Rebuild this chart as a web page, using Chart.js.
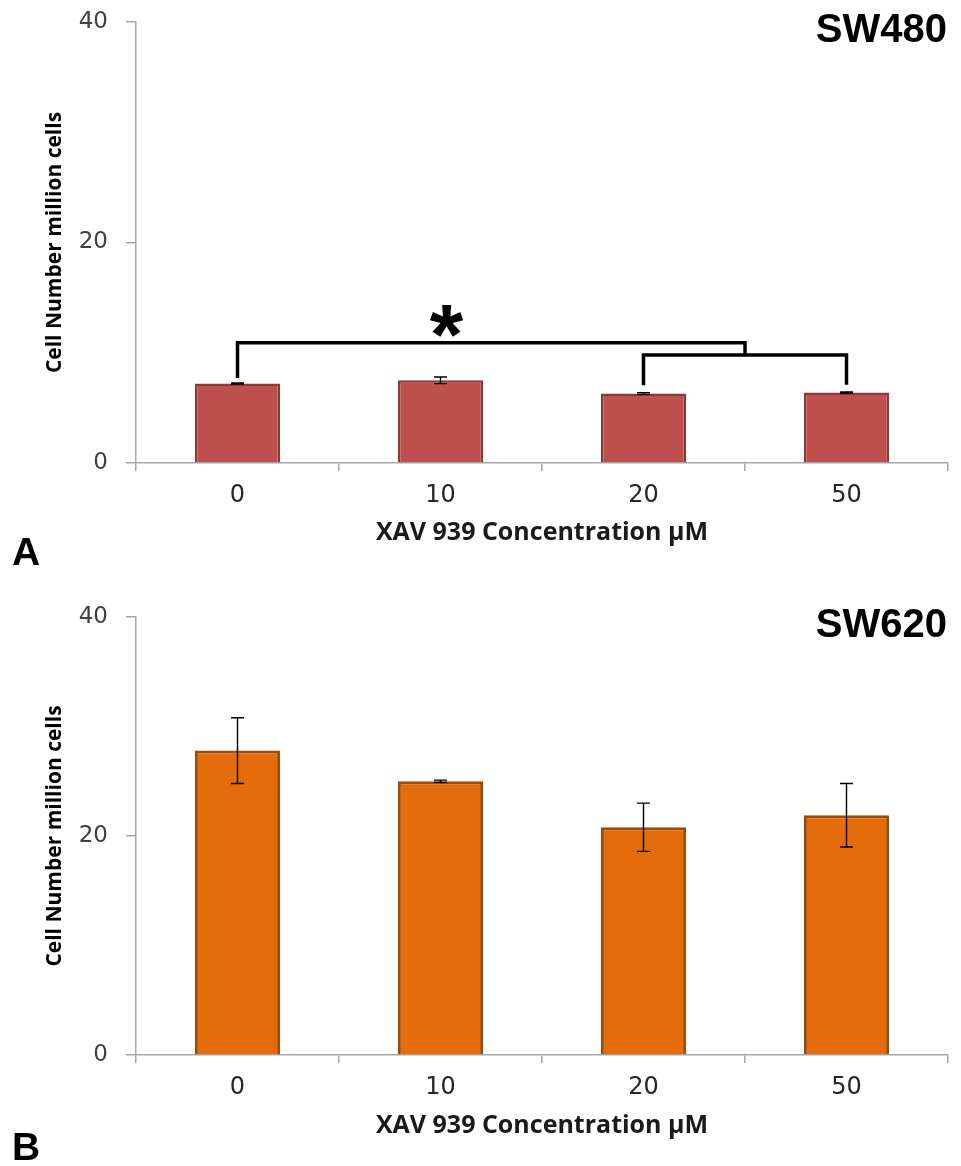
<!DOCTYPE html>
<html>
<head>
<meta charset="utf-8">
<script src="https://cdn.jsdelivr.net/npm/chart.js@4.4.1/dist/chart.umd.min.js"></script>
<style>
    html, body { margin: 0; padding: 0; background: #ffffff; }
    .panel { position: absolute; left: 0; width: 961px; height: 583px; }
    #panelA { top: 0; }
    #panelB { top: 583px; }
</style>
</head>
<body>
<div class="panel" id="panelA"><canvas id="chartA" width="961" height="583"></canvas></div>
<div class="panel" id="panelB"><canvas id="chartB" width="961" height="583"></canvas></div>
<script>
    // values (million cells)
    const concentrations = ["0", "10", "20", "50"];
    const sw480Means = [7.2, 7.5, 6.3, 6.4];
    const sw480Errors = [0.05, 0.3, 0.08, 0.05];
    const sw620Means = [27.8, 25.0, 20.8, 21.9];
    const sw620Errors = [3.0, 0.1, 2.2, 2.9];
    const yTickStep = 20;
    const yMax = 40;

    // significance bracket for SW480: 0 vs (20, 50)
    const bracketFrom = 0;
    const bracketPair = [2, 3];
    const bracketLevels = [10.9, 9.8];
    const bracketLegEnds = [7.7, 7.05, 7.1];
    const starPosition = [1.03, 12.9];

    const AXIS_GRAY = "#a6a6a6";

    const panelDecor = {
        id: "panelDecor",
        afterDatasetsDraw(chart, args, opts) {
            const ctx = chart.ctx;
            const x = chart.scales.x;
            const y = chart.scales.y;
            const means = chart.data.datasets[0].data;

            ctx.save();
            ctx.strokeStyle = "#000000";
            ctx.lineWidth = 1.4;
            opts.errors.forEach((err, i) => {
                const cx = x.getPixelForValue(i);
                const top = y.getPixelForValue(means[i] + err);
                const bottom = y.getPixelForValue(means[i] - err);
                const half = opts.capWidth / 2;
                ctx.beginPath();
                ctx.moveTo(cx, top);
                ctx.lineTo(cx, bottom);
                ctx.moveTo(cx - half, top);
                ctx.lineTo(cx + half, top);
                ctx.moveTo(cx - half, bottom);
                ctx.lineTo(cx + half, bottom);
                ctx.stroke();
            });

            if (opts.bracket) {
                const joinX = x.getPixelForValue((bracketPair[0] + bracketPair[1]) / 2);
                const x0 = x.getPixelForValue(bracketFrom);
                const x2 = x.getPixelForValue(bracketPair[0]);
                const x3 = x.getPixelForValue(bracketPair[1]);
                const upper = y.getPixelForValue(bracketLevels[0]);
                const lower = y.getPixelForValue(bracketLevels[1]);
                ctx.lineWidth = 3.5;
                ctx.lineJoin = "miter";
                ctx.beginPath();
                ctx.moveTo(x0, y.getPixelForValue(bracketLegEnds[0]));
                ctx.lineTo(x0, upper);
                ctx.lineTo(joinX, upper);
                ctx.lineTo(joinX, lower);
                ctx.moveTo(x2, y.getPixelForValue(bracketLegEnds[1]));
                ctx.lineTo(x2, lower);
                ctx.lineTo(x3, lower);
                ctx.lineTo(x3, y.getPixelForValue(bracketLegEnds[2]));
                ctx.stroke();

                // asterisk, centred on its glyph box
                ctx.font = "bold 86px 'Liberation Sans', Arial, sans-serif";
                ctx.fillStyle = "#000000";
                ctx.textAlign = "center";
                ctx.textBaseline = "alphabetic";
                const m = ctx.measureText("*");
                const cx = x.getPixelForValue(starPosition[0]);
                const cy = y.getPixelForValue(starPosition[1]);
                const baseY = cy + (m.actualBoundingBoxAscent - m.actualBoundingBoxDescent) / 2;
                ctx.fillText("*", cx, baseY);
            }
            ctx.restore();
        },
        afterDraw(chart, args, opts) {
            const ctx = chart.ctx;
            ctx.save();
            ctx.fillStyle = "#000000";
            ctx.textBaseline = "alphabetic";
            ctx.font = "bold 40px 'Liberation Sans', Arial, sans-serif";
            ctx.textAlign = "right";
            ctx.fillText(opts.name, 947, opts.nameBaseline);
            ctx.font = "bold 39px 'Liberation Sans', Arial, sans-serif";
            ctx.textAlign = "left";
            ctx.fillText(opts.letter, 12, opts.letterBaseline);
            ctx.restore();
        }
    };

    function buildPanel(canvas, cfg) {
        return new Chart(canvas, {
            type: "bar",
            data: {
                labels: concentrations,
                datasets: [
                    {
                        data: cfg.means,
                        backgroundColor: cfg.fill,
                        borderColor: cfg.border,
                        borderWidth: cfg.borderWidth,
                        barPercentage: 0.42,
                        categoryPercentage: 1
                    }
                ]
            },
            options: {
                responsive: false,
                animation: false,
                layout: { padding: { left: 0, right: 13, top: cfg.padTop, bottom: 0 } },
                plugins: {
                    legend: { display: false },
                    tooltip: { enabled: false },
                    panelDecor: {
                        errors: cfg.errors,
                        capWidth: 13,
                        bracket: cfg.bracket,
                        name: cfg.name,
                        nameBaseline: cfg.nameBaseline,
                        letter: cfg.letter,
                        letterBaseline: cfg.letterBaseline
                    }
                },
                scales: {
                    x: {
                        afterFit: (scale) => { scale.height = cfg.xHeight; },
                        grid: {
                            drawOnChartArea: false,
                            tickLength: 8,
                            color: AXIS_GRAY,
                            lineWidth: 1.5
                        },
                        border: { color: AXIS_GRAY, width: 1.5 },
                        ticks: {
                            color: "#262626",
                            padding: 10,
                            font: { family: "'DejaVu Sans', sans-serif", size: 24 }
                        },
                        title: {
                            display: true,
                            text: "XAV 939 Concentration µM",
                            color: "#1a1a1a",
                            font: { family: "'Open Sans', sans-serif", size: 25, weight: "bold" },
                            padding: { top: 0, bottom: cfg.xTitlePad }
                        }
                    },
                    y: {
                        min: 0,
                        max: yMax,
                        afterFit: (scale) => { scale.width = 136; },
                        grid: {
                            drawOnChartArea: false,
                            tickLength: 10,
                            color: AXIS_GRAY,
                            lineWidth: 1.5
                        },
                        border: { color: AXIS_GRAY, width: 1.5 },
                        ticks: {
                            stepSize: yTickStep,
                            color: "#404040",
                            padding: 18,
                            font: { family: "'DejaVu Sans', sans-serif", size: 23, lineHeight: 0.3 }
                        },
                        title: {
                            display: true,
                            text: "Cell Number million cells",
                            color: "#000000",
                            font: { family: "'Open Sans', sans-serif", size: 21, weight: "bold" },
                            padding: { top: 42, bottom: 0 }
                        }
                    }
                }
            },
            plugins: [panelDecor]
        });
    }

    buildPanel(document.getElementById("chartA"), {
        means: sw480Means,
        errors: sw480Errors,
        fill: "#c0504d",
        border: "#8c3a37",
        borderWidth: 2.5,
        padTop: 22,
        xHeight: 120,
        xTitlePad: 35,
        bracket: true,
        name: "SW480",
        nameBaseline: 42,
        letter: "A",
        letterBaseline: 565
    });

    buildPanel(document.getElementById("chartB"), {
        means: sw620Means,
        errors: sw620Errors,
        fill: "#e46c0a",
        border: "#9a4a0a",
        borderWidth: 3,
        padTop: 34,
        xHeight: 111,
        xTitlePad: 25,
        bracket: false,
        name: "SW620",
        nameBaseline: 54,
        letter: "B",
        letterBaseline: 577
    });
</script>
</body>
</html>
